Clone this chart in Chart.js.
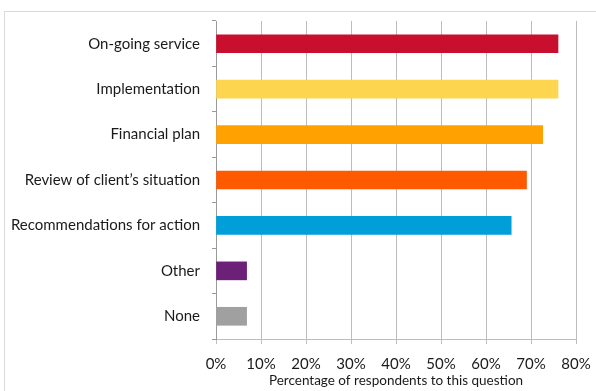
<!DOCTYPE html>
<html>
<head>
<meta charset="utf-8">
<script src="https://cdn.jsdelivr.net/npm/chart.js@4"></script>
<style>
  html, body { margin: 0; padding: 0; background: #fff; overflow: hidden; }
  #frame { position: absolute; left: 4px; top: 11px; width: 640px; height: 420px; border: 1px solid #dadada; }
  #wrap { position: absolute; left: 0; top: 0; width: 596px; height: 391px; }
</style>
</head>
<body>
<div id="frame"></div>
<div id="wrap"><canvas id="barChart"></canvas></div>
<script>
// survey answers, share of respondents (%)
const categories = ['On-going service', 'Implementation', 'Financial plan', 'Review of client\u2019s situation',
  'Recommendations for action', 'Other', 'None'];
const shares = [76, 76, 72.6, 69, 65.6, 6.8, 6.8];
const barColors = ['#c8102e', '#fdd54f', '#ffa100', '#ff5a00', '#009fda', '#6d2077', '#a0a0a0'];
const xTicks = [0, 10, 20, 30, 40, 50, 60, 70, 80];

const font = "Lato, 'Open Sans', sans-serif";

new Chart(document.getElementById('barChart'), {
  type: 'bar',
  data: {
    labels: categories,
    datasets: [{
      data: shares,
      backgroundColor: barColors,
      barThickness: 18
    }]
  },
  options: {
    indexAxis: 'y',
    responsive: true,
    maintainAspectRatio: false,
    animation: false,
    layout: { padding: { top: 19, right: 20, bottom: 0, left: 0 } },
    plugins: { legend: { display: false }, tooltip: { enabled: false } },
    scales: {
      x: {
        min: 0,
        max: 80,
        afterBuildTicks: (s) => { s.ticks = xTicks.map(v => ({ value: v })); },
        ticks: {
          callback: (v) => v + '%',
          color: '#1a1a1a',
          font: { family: font, size: 15 },
          padding: 11
        },
        grid: { color: '#bdbdbd', lineWidth: 1, tickLength: 5 },
        border: { color: '#bdbdbd' },
        title: {
          display: true,
          text: 'Percentage of respondents to this question',
          color: '#1a1a1a',
          font: { family: font, size: 13.5 },
          padding: { top: 1, bottom: 2 }
        },
        afterFit: (s) => { s.height = 52; s.paddingRight = 0; }
      },
      y: {
        ticks: {
          color: '#1a1a1a',
          font: { family: font, size: 15 },
          padding: 12
        },
        grid: { drawOnChartArea: false, color: '#9a9a9a', tickLength: 4, offset: true },
        border: { color: '#9a9a9a' },
        afterFit: (s) => { s.width = 216; }
      }
    }
  }
});
</script>
</body>
</html>
